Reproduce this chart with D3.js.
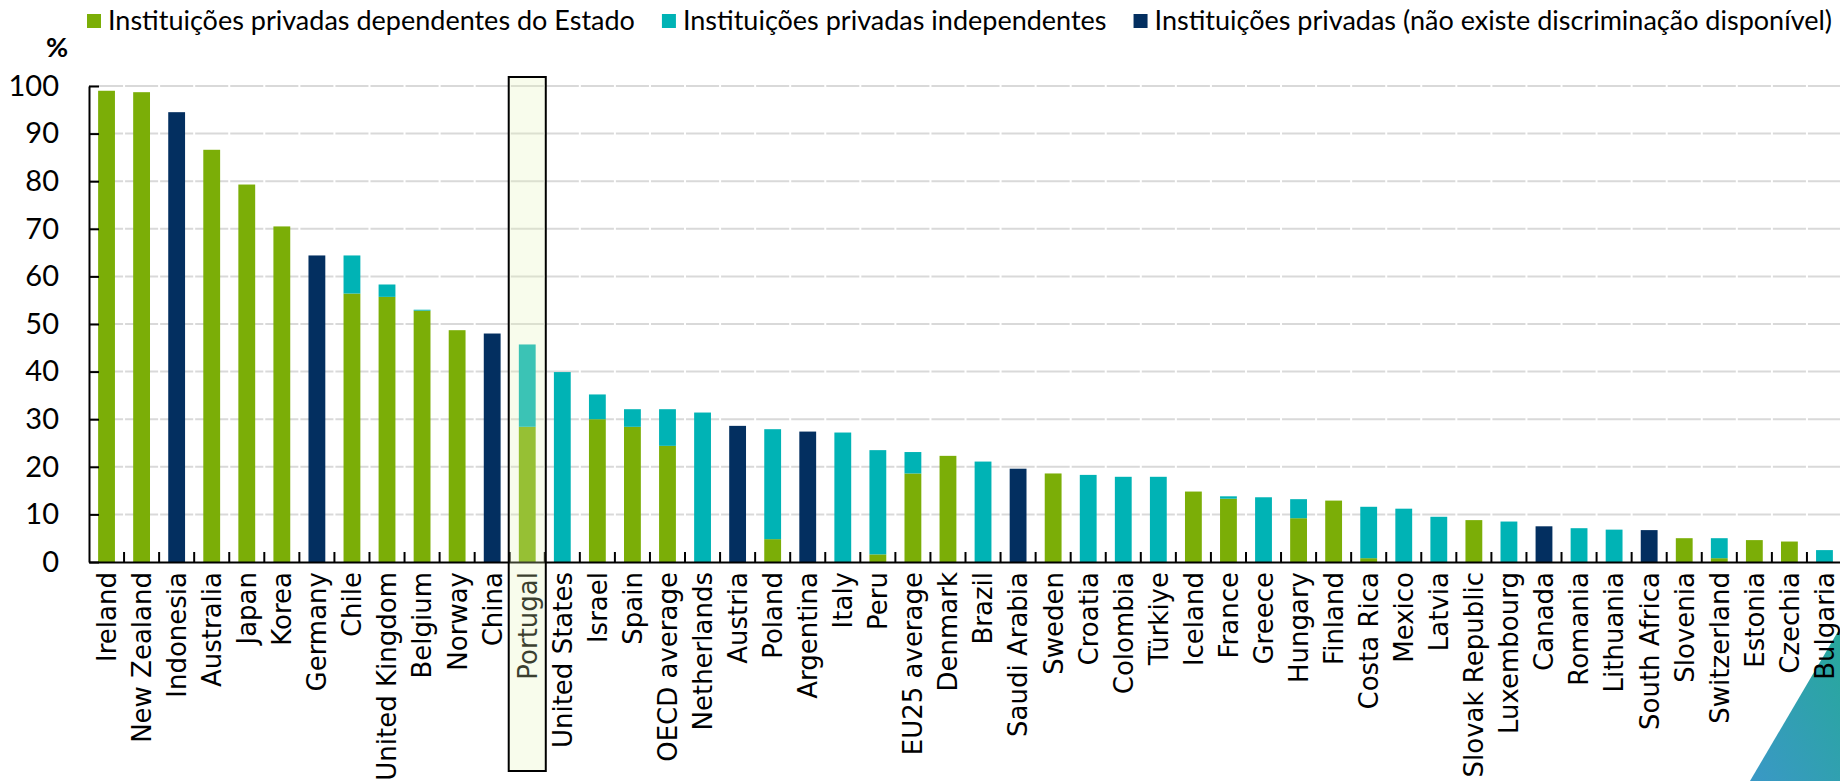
<!DOCTYPE html>
<html>
<head>
<meta charset="utf-8">
<script src="https://cdn.jsdelivr.net/npm/d3@7"></script>
<style>
  html, body { margin: 0; padding: 0; background: #fff; }
  svg { display: block; }
</style>
</head>
<body>
<svg id="chart"></svg>
<script>
let categories = ["Ireland", "New Zealand", "Indonesia", "Australia", "Japan", "Korea", "Germany", "Chile",
    "United Kingdom", "Belgium", "Norway", "China", "Portugal", "United States", "Israel", "Spain",
    "OECD average", "Netherlands", "Austria", "Poland", "Argentina", "Italy", "Peru", "EU25 average",
    "Denmark", "Brazil", "Saudi Arabia", "Sweden", "Croatia", "Colombia", "Türkiye", "Iceland", "France",
    "Greece", "Hungary", "Finland", "Costa Rica", "Mexico", "Latvia", "Slovak Republic", "Luxembourg",
    "Canada", "Romania", "Lithuania", "South Africa", "Slovenia", "Switzerland", "Estonia", "Czechia", "Bulgaria"];

// instituições privadas dependentes do Estado
let dependentes = [99.0, 98.7, 0, 86.6, 79.3, 70.5, 0, 56.4,
    55.7, 52.8, 48.7, 0, 28.4, 0, 30.0, 28.4,
    24.4, 0, 0, 4.8, 0, 0, 1.6, 18.6,
    22.3, 0, 0, 18.6, 0, 0, 0, 14.8, 13.3,
    0, 9.2, 12.9, 0.8, 0, 0, 8.8, 0,
    0, 0, 0, 0, 5.0, 0.8, 4.6, 4.3, 0];

// instituições privadas independentes
let independentes = [0, 0, 0, 0, 0, 0, 0, 8.0,
    2.6, 0.2, 0, 0, 17.3, 39.9, 5.2, 3.7,
    7.7, 31.4, 0, 23.1, 0, 27.2, 21.9, 4.5,
    0, 21.1, 0, 0, 18.3, 17.9, 17.9, 0, 0.5,
    13.6, 4.0, 0, 10.8, 11.2, 9.5, 0, 8.5,
    0, 7.1, 6.8, 0, 0, 4.2, 0, 0, 2.5];

// não existe discriminação disponível
let semDiscriminacao = [0, 0, 94.5, 0, 0, 0, 64.4, 0,
    0, 0, 0, 48.0, 0, 0, 0, 0,
    0, 0, 28.6, 0, 27.4, 0, 0, 0,
    0, 0, 19.6, 0, 0, 0, 0, 0, 0,
    0, 0, 0, 0, 0, 0, 0, 0,
    7.5, 0, 0, 6.7, 0, 0, 0, 0, 0];

let seriesNames = ["Instituições privadas dependentes do Estado",
    "Instituições privadas independentes",
    "Instituições privadas (não existe discriminação disponível)"];

let yTicks = [0, 10, 20, 30, 40, 50, 60, 70, 80, 90, 100];
let highlight = "Portugal";

let width = 1840,
    height = 781;

let colour = ['#7bae07', '#00b3b5', '#032f60'];
let keys = ['dep', 'ind', 'nd'];

let svg = d3.select("#chart")
    .attr("width", width)
    .attr("height", height);

let x = d3.scaleBand()
    .domain(categories)
    .range([89, 1842])
    .paddingInner(0.52)
    .paddingOuter(0.26);

let y = d3.scaleLinear()
    .domain([0, 100])
    .range([562, 86]);

let step = x.step();
let x0 = x.range()[0];

// gridlines, broken at each category boundary
let grid = svg.append("g");
yTicks.filter(t => t > 0).forEach(t => {
    categories.forEach((c, i) => {
        grid.append("line")
            .attr("x1", x0 + i * step + (i === 0 ? 0 : 1))
            .attr("x2", x0 + (i + 1) * step - 1)
            .attr("y1", y(t)).attr("y2", y(t))
            .attr("stroke", "#d9d9d9")
            .attr("stroke-width", 2);
    });
});

let rows = categories.map((c, i) => ({
    cat: c,
    dep: dependentes[i],
    ind: independentes[i],
    nd: semDiscriminacao[i]
}));

let stack = d3.stack().keys(keys);

svg.append("g")
    .selectAll("g")
    .data(stack(rows))
    .enter().append("g")
    .attr("fill", (d, i) => colour[i])
    .selectAll("rect")
    .data(d => d.filter(s => s[1] - s[0] > 0))
    .enter().append("rect")
    .attr("x", d => x(d.data.cat))
    .attr("width", x.bandwidth())
    .attr("y", d => y(d[1]))
    .attr("height", d => y(d[0]) - y(d[1]));

// corner ornament
let defs = svg.append("defs");
let grad = defs.append("linearGradient")
    .attr("id", "corner")
    .attr("x1", "1").attr("y1", "0")
    .attr("x2", "0").attr("y2", "1");
grad.append("stop").attr("offset", "0%").attr("stop-color", "#27a89b");
grad.append("stop").attr("offset", "100%").attr("stop-color", "#3a98c6");
svg.append("path")
    .attr("d", "M1840,628 L1840,781 L1750,781 Z")
    .attr("fill", "url(#corner)");

// y axis
let yAxis = d3.axisLeft(y)
    .tickValues(yTicks)
    .tickSize(-10)
    .tickSizeOuter(0)
    .tickPadding(30);

let yg = svg.append("g")
    .attr("transform", "translate(" + x0 + ",0)")
    .call(yAxis);
yg.select(".domain").attr("stroke", "#000").attr("stroke-width", 2);
yg.selectAll(".tick line").attr("stroke", "#000").attr("stroke-width", 2);
yg.selectAll(".tick text")
    .attr("fill", "#000")
    .style("font-family", "Lato, 'Open Sans', sans-serif")
    .style("font-size", "29px");

// x axis
let xAxis = d3.axisBottom(x).tickSize(0).tickSizeOuter(0);
let xg = svg.append("g")
    .attr("transform", "translate(0," + y(0) + ")")
    .call(xAxis);
xg.select(".domain").attr("stroke", "#000").attr("stroke-width", 2);
xg.selectAll(".tick text")
    .attr("transform", "rotate(-90)")
    .attr("x", -10)
    .attr("y", 0)
    .attr("dy", "0.36em")
    .attr("text-anchor", "end")
    .attr("fill", "#000")
    .style("font-family", "'DejaVu Sans', sans-serif")
    .style("font-size", "26px");

// tick marks between categories
svg.append("g")
    .selectAll("line")
    .data(categories.slice(1))
    .enter().append("line")
    .attr("x1", (d, i) => x0 + (i + 1) * step)
    .attr("x2", (d, i) => x0 + (i + 1) * step)
    .attr("y1", y(0))
    .attr("y2", y(0) - 10)
    .attr("stroke", "#000")
    .attr("stroke-width", 2);

// highlight box
svg.append("rect")
    .attr("x", x(highlight) - step * x.paddingInner() / 2 - 1)
    .attr("width", step + 2)
    .attr("y", y(100) - 9)
    .attr("height", 771 - (y(100) - 9))
    .attr("fill", "rgb(228,243,182)")
    .attr("fill-opacity", 0.26)
    .attr("stroke", "#000")
    .attr("stroke-width", 2);

// unit label
svg.append("text")
    .attr("x", 57)
    .attr("y", 57)
    .attr("text-anchor", "middle")
    .style("font-family", "Lato, 'Open Sans', sans-serif")
    .style("font-weight", "bold")
    .style("font-size", "27px")
    .text("%");

// legend, fitted between the two ends of the chart
let legend = svg.append("g");
let legendStart = 87, legendEnd = 1833;
let items = legend.selectAll("g")
    .data(seriesNames)
    .enter().append("g");
items.append("rect")
    .attr("width", 14)
    .attr("height", 14)
    .attr("fill", (d, i) => colour[i]);
let texts = items.append("text")
    .attr("x", 21)
    .attr("y", 7)
    .attr("dy", "0.35em")
    .style("font-family", "Lato, 'Open Sans', sans-serif")
    .style("font-size", "24px")
    .text(d => d);

let gap = 27;
let natural = 0;
texts.each(function () { natural += this.getComputedTextLength(); });
let avail = legendEnd - legendStart - seriesNames.length * 21 - (seriesNames.length - 1) * gap;
let fs = 24 * avail / natural;
texts.style("font-size", fs + "px");

let pos = legendStart;
items.each(function () {
    let t = d3.select(this).select("text").node();
    d3.select(this).attr("transform", "translate(" + pos + ",14)");
    pos += 21 + t.getComputedTextLength() + gap;
});
</script>
</body>
</html>
